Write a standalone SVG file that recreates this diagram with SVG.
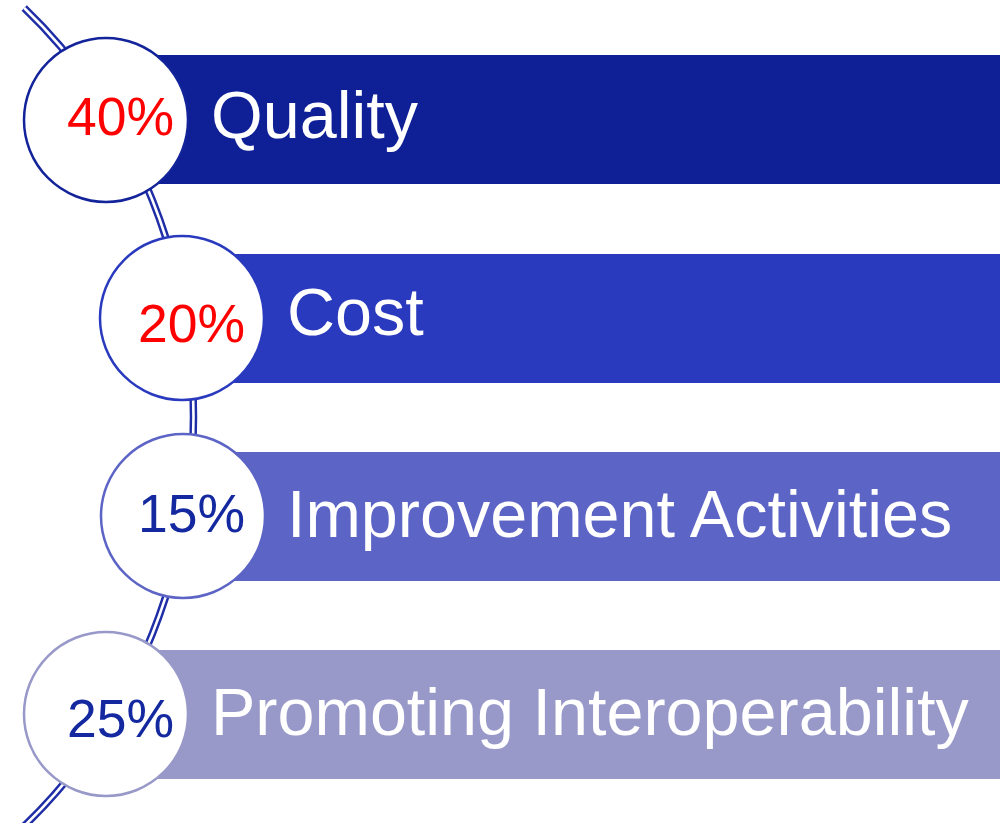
<svg xmlns="http://www.w3.org/2000/svg" width="1007" height="823" viewBox="0 0 1007 823">
  <style>
    .ring { fill: #ffffff; stroke-width: 2.5; }
    .pct { font-family: "Liberation Sans", Arial, sans-serif; font-size: 53.5px; text-anchor: end; }
    .lbl { font-family: "Liberation Sans", Arial, sans-serif; font-size: 66.5px; fill: #ffffff; }
    .red { fill: #ff0000; }
    .blue { fill: #1428a0; }
    .conn-outer { fill: none; stroke: #1f2ea6; stroke-width: 7.5; }
    .conn-inner { fill: none; stroke: #ffffff; stroke-width: 2.6; }
  </style>
  <rect width="1007" height="823" fill="#ffffff"/>
  <g id="connectors">
    <path class="conn-outer" d="M 24.2,8 A 493.5 542.5 0 0 1 24.2,826"/>
    <path class="conn-inner" d="M 24.2,8 A 493.5 542.5 0 0 1 24.2,826"/>
  </g>
  <g id="node-quality">
    <rect x="106" y="55" width="894" height="129" fill="#0f1f96"/>
    <circle class="ring" cx="106" cy="120" r="82" stroke="#13239a"/>
    <text class="pct red" x="174" y="135">40%</text>
    <text class="lbl" x="211" y="138">Quality</text>
  </g>
  <g id="node-cost">
    <rect x="182" y="254" width="818" height="129" fill="#2a3abe"/>
    <circle class="ring" cx="182" cy="318" r="82" stroke="#2a3abe"/>
    <text class="pct red" x="245" y="342">20%</text>
    <text class="lbl" x="287" y="335">Cost</text>
  </g>
  <g id="node-improvement">
    <rect x="183" y="452" width="817" height="129" fill="#5c64c5"/>
    <circle class="ring" cx="183" cy="516" r="82" stroke="#5c64c5"/>
    <text class="pct blue" x="245" y="532">15%</text>
    <text class="lbl" x="287" y="537">Improvement Activities</text>
  </g>
  <g id="node-interoperability">
    <rect x="106" y="650" width="894" height="129" fill="#9899c9"/>
    <circle class="ring" cx="106" cy="714" r="82" stroke="#9899c9"/>
    <text class="pct blue" x="174" y="737">25%</text>
    <text class="lbl" x="211" y="735">Promoting Interoperability</text>
  </g>
</svg>
